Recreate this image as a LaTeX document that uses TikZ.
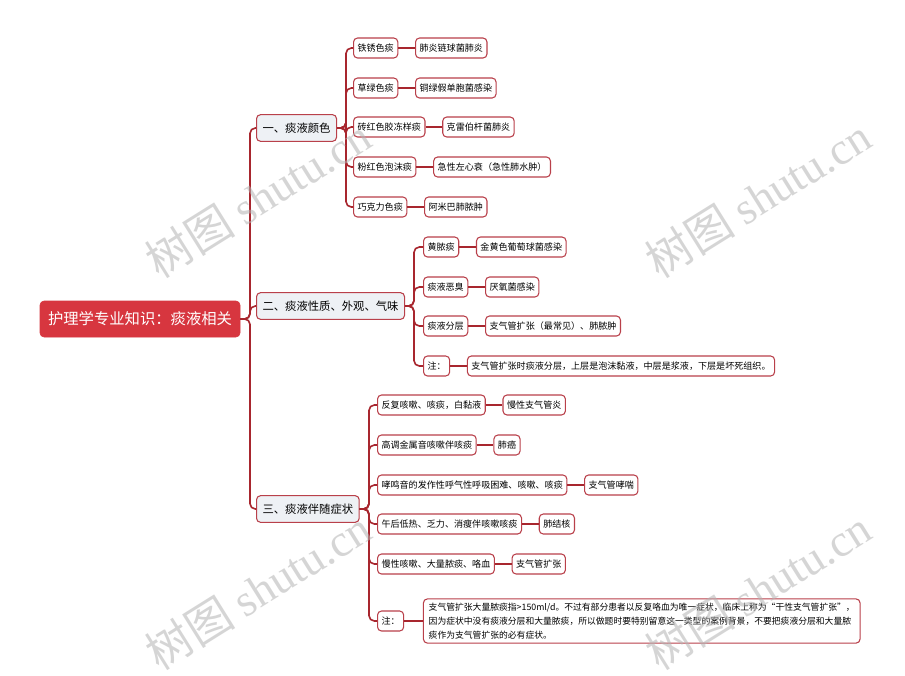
\documentclass[tikz,border=0pt]{standalone}
\usepackage{fontspec}
\setmainfont{Noto Sans CJK SC}
\newfontfamily\wmserif{Liberation Serif}
\usetikzlibrary{positioning}
\definecolor{linec}{HTML}{A8262E}
\definecolor{boxc}{HTML}{B9404A}
\definecolor{rootc}{HTML}{D7363F}
\definecolor{lonefill}{HTML}{EEF1F5}
\definecolor{wmc}{HTML}{B4B4B4}
\begin{document}
\begin{tikzpicture}[x=0.75pt,y=-0.75pt,
  conn/.style={draw=linec, line width=1.2pt, rounded corners=4pt},
  rootbox/.style={fill=rootc, draw=rootc, rounded corners=3pt, text=white,
    font=\fontsize{11.5}{13}\selectfont, inner xsep=6pt, minimum height=27pt},
  lone/.style={fill=lonefill, draw=boxc, line width=0.8pt, rounded corners=3pt,
    font=\fontsize{8.5}{10}\selectfont, inner xsep=4.5pt, minimum height=20pt, anchor=west},
  leaf/.style={fill=white, draw=boxc, line width=0.8pt, rounded corners=3pt,
    font=\fontsize{6.8}{8.5}\selectfont, inner xsep=3pt, minimum height=15pt, anchor=west},
  wm/.style={text=wmc, text opacity=0.55, font=\fontsize{34}{36}\selectfont, rotate=32},
]
\fill[white] (0,0) rectangle (905,675);
\useasboundingbox (0,0) rectangle (905,675);

% bus coordinates
\coordinate (trunk) at (250,0);
\coordinate (busA) at (346,0);
\coordinate (busB) at (414,0);
\coordinate (busC) at (369,0);

% root and level 1
\node[rootbox] (root) at (140,319) {护理学专业知识：痰液相关};
\node[lone] (L1a) at (256,128) {一、痰液颜色};
\node[lone] (L1b) at (256,306) {二、痰液性质、外观、气味};
\node[lone] (L1c) at (256,509) {三、痰液伴随症状};

% branch A
\node[leaf] (a1) at (353,48) {铁锈色痰};
\node[leaf, right=12.5pt of a1] (a1r) {肺炎链球菌肺炎};
\node[leaf] (a2) at (353,88) {草绿色痰};
\node[leaf, right=12.5pt of a2] (a2r) {铜绿假单胞菌感染};
\node[leaf] (a3) at (353,127) {砖红色胶冻样痰};
\node[leaf, right=12.5pt of a3] (a3r) {克雷伯杆菌肺炎};
\node[leaf] (a4) at (353,167) {粉红色泡沫痰};
\node[leaf, right=12.5pt of a4] (a4r) {急性左心衰（急性肺水肿）};
\node[leaf] (a5) at (353,207) {巧克力色痰};
\node[leaf, right=12.5pt of a5] (a5r) {阿米巴肺脓肿};

% branch B
\node[leaf] (b1) at (423,247) {黄脓痰};
\node[leaf, right=12.5pt of b1] (b1r) {金黄色葡萄球菌感染};
\node[leaf] (b2) at (423,287) {痰液恶臭};
\node[leaf, right=12.5pt of b2] (b2r) {厌氧菌感染};
\node[leaf] (b3) at (423,326) {痰液分层};
\node[leaf, right=12.5pt of b3] (b3r) {支气管扩张（最常见）、肺脓肿};
\node[leaf] (b4) at (423,366) {注：};
\node[leaf, right=12.5pt of b4] (b4r) {支气管扩张时痰液分层，上层是泡沫黏液，中层是浆液，下层是坏死组织。};

% branch C
\node[leaf] (c1) at (377,405) {反复咳嗽、咳痰，白黏液};
\node[leaf, right=12.5pt of c1] (c1r) {慢性支气管炎};
\node[leaf] (c2) at (377,445) {高调金属音咳嗽伴咳痰};
\node[leaf, right=12.5pt of c2] (c2r) {肺癌};
\node[leaf] (c3) at (377,485) {哮鸣音的发作性呼气性呼吸困难、咳嗽、咳痰};
\node[leaf, right=12.5pt of c3] (c3r) {支气管哮喘};
\node[leaf] (c4) at (377,524) {午后低热、乏力、消瘦伴咳嗽咳痰};
\node[leaf, right=12.5pt of c4] (c4r) {肺结核};
\node[leaf] (c5) at (377,564) {慢性咳嗽、大量脓痰、咯血};
\node[leaf, right=12.5pt of c5] (c5r) {支气管扩张};
\node[leaf] (c6) at (377,621) {注：};
\node[leaf, right=14pt of c6, align=left, font=\fontsize{6.6}{10.5}\selectfont, inner ysep=3pt, inner xsep=4pt] (c6r)
  {支气管扩张大量脓痰指>150ml/d。不过有部分患者以反复咯血为唯一症状，临床上称为“干性支气管扩张”，\\
   因为症状中没有痰液分层和大量脓痰，所以做题时要特别留意这一类型的案例背景，不要把痰液分层和大量脓\\
   痰作为支气管扩张的必有症状。};

% connectors: trunk
\foreach \t in {L1a,L1b,L1c}
  \draw[conn] (root.east) -- (root.east -| trunk) |- (\t.west);

% connectors: branches
\foreach \c in {a1,a2,a3,a4,a5}
  \draw[conn] (L1a.east) -- (L1a.east -| busA) |- (\c.west);
\foreach \c in {b1,b2,b3,b4}
  \draw[conn] (L1b.east) -- (L1b.east -| busB) |- (\c.west);
\foreach \c in {c1,c2,c3,c4,c5,c6}
  \draw[conn] (L1c.east) -- (L1c.east -| busC) |- (\c.west);
\foreach \c in {a1,a2,a3,a4,a5,b1,b2,b3,b4,c1,c2,c3,c4,c5,c6}
  \draw[conn] (\c.east) -- (\c r.west);

% watermarks
\node[wm] (wm1) at (258,198) {树图 {\wmserif shutu.cn}};
\node[wm] (wm2) at (758,198) {树图 {\wmserif shutu.cn}};
\node[wm] (wm3) at (258,590) {树图 {\wmserif shutu.cn}};
\node[wm] (wm4) at (758,590) {树图 {\wmserif shutu.cn}};
\end{tikzpicture}
\end{document}
